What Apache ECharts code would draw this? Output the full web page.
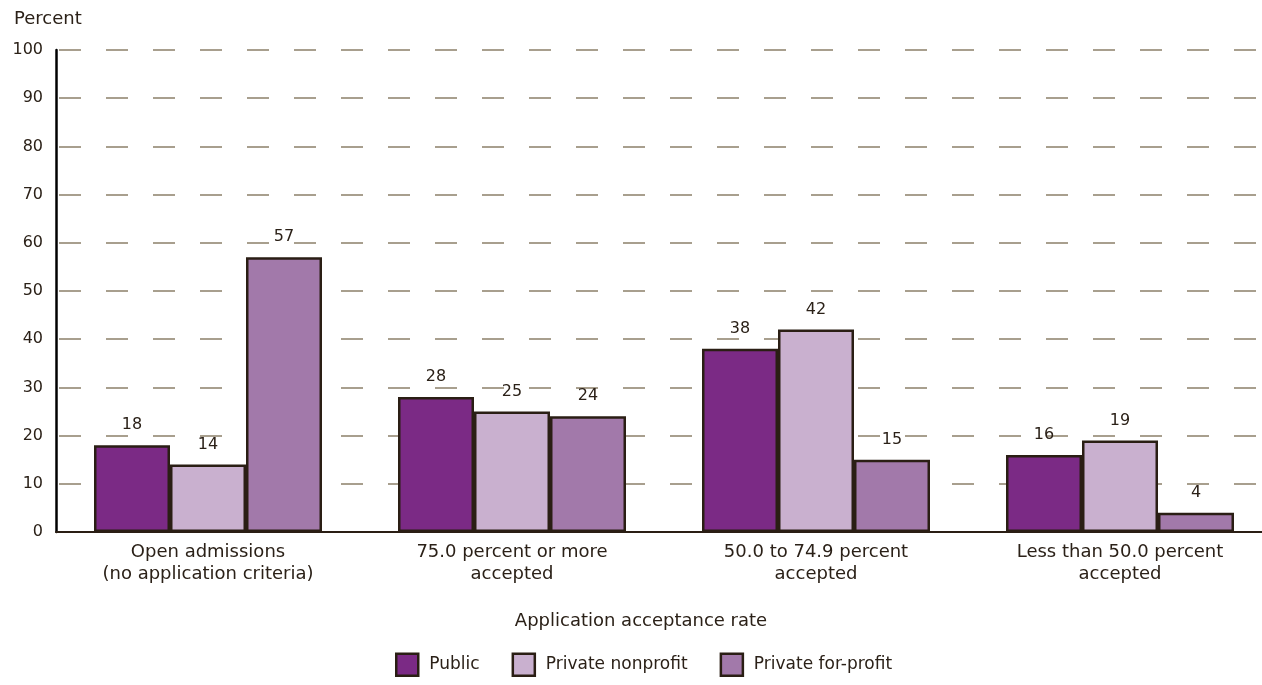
<!DOCTYPE html>
<html>
<head>
<meta charset="utf-8">
<script src="https://cdn.jsdelivr.net/npm/echarts@6/dist/echarts.min.js"></script>
<style>
  html, body { margin: 0; padding: 0; background: #fff; overflow: hidden; }
  #chart { width: 1272px; height: 685px; }
</style>
</head>
<body>
<div id="chart"></div>
<script>
const categories = [
  'Open admissions\n(no application criteria)',
  '75.0 percent or more\naccepted',
  '50.0 to 74.9 percent\naccepted',
  'Less than 50.0 percent\naccepted'
];
const publicValues = [18, 28, 38, 16];
const nonprofitValues = [14, 25, 42, 19];
const forprofitValues = [57, 24, 15, 4];

const textColor = '#2b2118';
const edgeColor = '#2a1e14';
const fontFamily = '"DejaVu Sans", sans-serif';

const makeSeries = (name, data, color) => {
  return {
    name: name,
    type: 'bar',
    data: data,
    barGap: '0%',
    barCategoryGap: '25%',
    itemStyle: { color: color, borderColor: edgeColor, borderWidth: 2.5 },
    label: {
      show: true,
      position: 'top',
      distance: 12,
      color: textColor,
      fontSize: 16,
      fontFamily: fontFamily
    }
  };
};

const initChart = () => {
  // the plot area runs a little past the right edge of the window, like the original
  const chart = echarts.init(document.getElementById('chart'));
  chart.setOption({
    animation: false,
    textStyle: { fontFamily: fontFamily, color: textColor },
    title: {
      text: 'Percent',
      left: 9,
      top: 5,
      textStyle: { fontSize: 18, fontWeight: 'normal', color: textColor, fontFamily: fontFamily }
    },
    grid: { left: 56, top: 50, right: 0, bottom: 153 },
    legend: {
      bottom: 3,
      left: 390,
      itemWidth: 22,
      itemHeight: 22,
      itemGap: 32,
      icon: 'rect',
      textStyle: { fontSize: 17, color: textColor, fontFamily: fontFamily, padding: [0, 0, 0, 6] },
      itemStyle: { borderColor: edgeColor, borderWidth: 2.5 }
    },
    xAxis: {
      type: 'category',
      data: categories,
      name: 'Application acceptance rate',
      nameLocation: 'middle',
      nameGap: 80,
      nameTextStyle: { fontSize: 18, color: textColor, fontFamily: fontFamily, padding: [0, 46, 0, 0] },
      axisLine: { lineStyle: { color: edgeColor, width: 2 } },
      axisTick: { show: false },
      axisLabel: {
        color: textColor,
        fontSize: 18,
        lineHeight: 22,
        margin: 9,
        fontFamily: fontFamily
      }
    },
    yAxis: {
      type: 'value',
      min: 0,
      max: 100,
      interval: 10,
      axisLine: { show: true, lineStyle: { color: '#000', width: 2.5 } },
      axisTick: { show: false },
      axisLabel: { color: textColor, fontSize: 16, margin: 13, fontFamily: fontFamily },
      splitLine: { lineStyle: { color: '#a89f8e', width: 2, type: [22, 25], dashOffset: -3 } }
    },
    series: [
      makeSeries('Public', publicValues, '#7b2a85'),
      makeSeries('Private nonprofit', nonprofitValues, '#c9b0cf'),
      makeSeries('Private for-profit', forprofitValues, '#a279aa')
    ]
  });
};

window.addEventListener('load', () => {
  initChart();
});
</script>
</body>
</html>
